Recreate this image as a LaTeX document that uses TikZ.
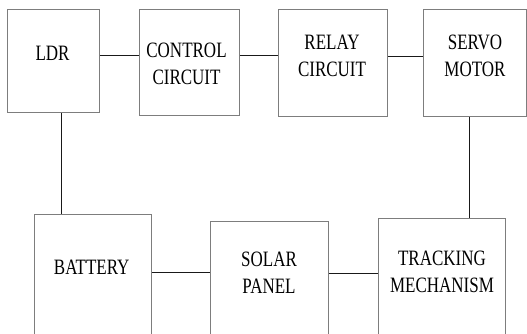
\documentclass[tikz,border=0pt]{standalone}
\usepackage{graphicx}
\usepackage{fontspec}
\setmainfont{Liberation Serif}
\usetikzlibrary{positioning}
\definecolor{bgray}{RGB}{125,125,125}
\definecolor{wblack}{RGB}{25,25,25}
\newcommand{\tallText}[1]{\scalebox{1}[1.29]{\begin{tabular}{@{}c@{}}#1\end{tabular}}}

\begin{document}
\begin{tikzpicture}[x=1pt,y=-1pt,
  blk/.style={draw=bgray, line width=1.3pt, anchor=north west, inner sep=0pt},
  lbl/.style={font=\rmfamily\fontsize{17}{21}\selectfont, inner sep=0pt},
  wire/.style={draw=wblack, line width=0.9pt}]
\clip (0,0) rectangle (527,334);

%blocks
\node[blk, minimum width=92pt, minimum height=103pt] (ldr) at (7,9) {};
\node[blk, minimum width=100pt, minimum height=106pt] (ctrl) at (139,9) {};
\node[blk, minimum width=109pt, minimum height=107pt] (relay) at (278,9) {};
\node[blk, minimum width=103pt, minimum height=107pt] (servo) at (423,9) {};
\node[blk, minimum width=117pt, minimum height=136pt] (batt) at (34,214) {};
\node[blk, minimum width=118pt, minimum height=129pt] (solar) at (210,221) {};
\node[blk, minimum width=127pt, minimum height=132pt] (track) at (378,218) {};

%texts
\node[lbl] (ldrtxt) at (52.5,55.5) {\tallText{LDR}};
\node[lbl] (ctrltxt) at (186.5,66) {\tallText{CONTROL\\CIRCUIT}};
\node[lbl] (relaytxt) at (332,57.5) {\tallText{RELAY\\CIRCUIT}};
\node[lbl] (servotxt) at (475,58) {\tallText{SERVO\\MOTOR}};
\node[lbl] (batttxt) at (91.7,269.5) {\tallText{BATTERY}};
\node[lbl] (solartxt) at (269,274.4) {\tallText{SOLAR\\PANEL}};
\node[lbl] (tracktxt) at (442,273.2) {\tallText{TRACKING\\MECHANISM}};

%connections
\draw[wire] ([yshift=5.5pt]ldr.east) -- ([yshift=5.5pt]ldr.east -| ctrl.west);
\draw[wire] ([yshift=7pt]ctrl.east) -- ([yshift=7pt]ctrl.east -| relay.west);
\draw[wire] ([yshift=6.5pt]relay.east) -- ([yshift=6.5pt]relay.east -| servo.west);
\draw[wire] ([xshift=8pt]ldr.south) -- ([xshift=8pt]ldr.south |- batt.north);
\draw[wire] ([xshift=-5.5pt]servo.south) -- ([xshift=-5.5pt]servo.south |- track.north);
\draw[wire] ([yshift=10pt]batt.east) -- ([yshift=10pt]batt.east -| solar.west);
\draw[wire] ([yshift=13pt]solar.east) -- ([yshift=13pt]solar.east -| track.west);

\end{tikzpicture}
\end{document}
